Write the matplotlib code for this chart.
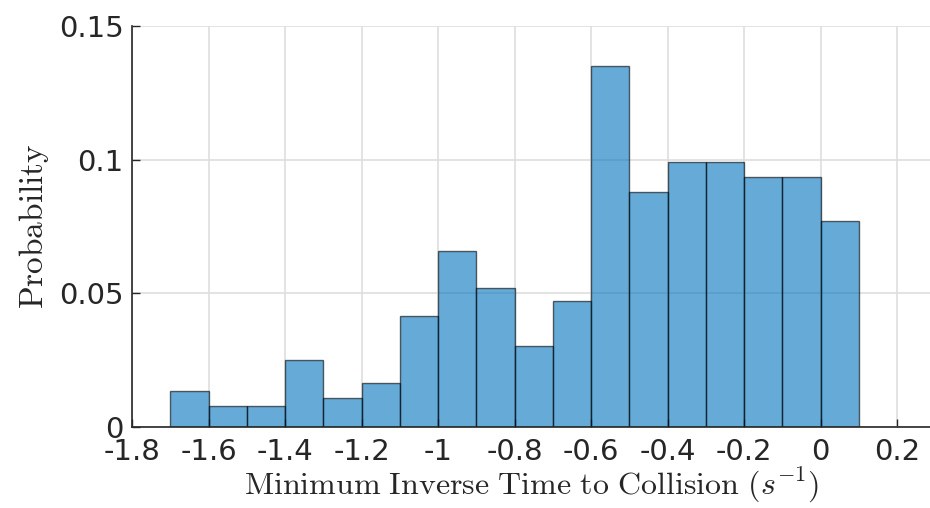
import numpy as np
import matplotlib
matplotlib.use("Agg")
import matplotlib.pyplot as plt

plt.rcParams['mathtext.fontset'] = 'cm'

# histogram bins (left edges, width 0.1) and probabilities
bin_edges = [-1.7, -1.6, -1.5, -1.4, -1.3, -1.2, -1.1, -1.0, -0.9, -0.8,
             -0.7, -0.6, -0.5, -0.4, -0.3, -0.2, -0.1, 0.0, 0.1]
probability = [0.0135, 0.008, 0.008, 0.025, 0.011, 0.0165, 0.0415, 0.066, 0.052,
               0.0305, 0.047, 0.135, 0.088, 0.099, 0.099, 0.0935, 0.0935, 0.077]
xticks = [-1.8, -1.6, -1.4, -1.2, -1.0, -0.8, -0.6, -0.4, -0.2, 0.0, 0.2]
xtick_labels = ['-1.8', '-1.6', '-1.4', '-1.2', '-1', '-0.8', '-0.6', '-0.4', '-0.2', '0', '0.2']
yticks = [0, 0.05, 0.1, 0.15]
ytick_labels = ['0', '0.05', '0.1', '0.15']

fig = plt.figure(figsize=(9.3, 5.08), dpi=100)
ax = fig.add_axes([0.142, 0.159, 0.858, 0.79])

edges = np.array(bin_edges)
ax.bar(edges[:-1], probability, width=np.diff(edges), align='edge',
       color='#0072BD', alpha=0.6, edgecolor='black', linewidth=1.0, zorder=2)

ax.set_xlim(-1.8, 0.286)
ax.set_ylim(0, 0.15)
ax.set_xticks(xticks)
ax.set_xticklabels(xtick_labels)
ax.set_yticks(yticks)
ax.set_yticklabels(ytick_labels)

ax.grid(True, color='#dedede', linewidth=1.2, zorder=0)
ax.set_axisbelow(True)
ax.spines['top'].set_visible(False)
ax.spines['right'].set_visible(False)
for s in ['left', 'bottom']:
    ax.spines[s].set_color('#262626')
    ax.spines[s].set_linewidth(1.2)
ax.tick_params(direction='in', length=6, width=1.0, colors='#262626',
               labelsize=21)
ax.tick_params(axis='x', pad=8)
ax.tick_params(axis='y', pad=6)

ax.set_xlabel(r'$\mathrm{Minimum\ Inverse\ Time\ to\ Collision}\ (s^{-1})$',
              fontsize=23, color='#262626', labelpad=0)
ax.set_ylabel(r'$\mathrm{Probability}$', fontsize=24, color='#262626', labelpad=6)

fig.savefig('out.png', dpi=100)
